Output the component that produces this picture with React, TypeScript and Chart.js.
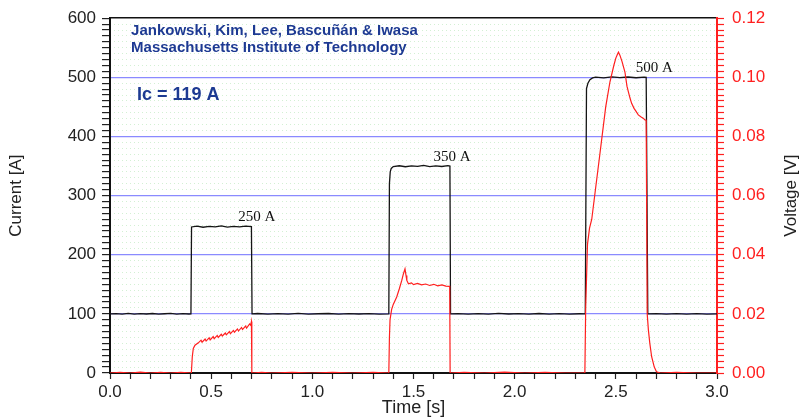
import React, { useEffect, useRef } from 'react';
import { Chart, registerables } from 'chart.js';

Chart.register(...registerables);

// ---- Data ----
const timeCurrent = [
  0, 0.03, 0.06, 0.09, 0.12, 0.15, 0.18, 0.21, 0.24, 0.27, 0.30, 0.33, 0.36, 0.39, 0.400,
  0.403, 0.43, 0.46, 0.49, 0.52, 0.55, 0.58, 0.61, 0.64, 0.67, 0.699,
  0.702, 0.73, 0.78, 0.83, 0.88, 0.93, 0.98, 1.03, 1.08, 1.13, 1.18, 1.23, 1.28, 1.33, 1.378,
  1.381, 1.385, 1.39, 1.40, 1.43, 1.46, 1.49, 1.52, 1.55, 1.58, 1.61, 1.64, 1.67, 1.680,
  1.683, 1.72, 1.77, 1.82, 1.87, 1.92, 1.97, 2.02, 2.07, 2.12, 2.17, 2.22, 2.27, 2.32, 2.349,
  2.355, 2.362, 2.372, 2.385, 2.40, 2.44, 2.48, 2.52, 2.56, 2.60, 2.64, 2.650,
  2.658, 2.70, 2.75, 2.80, 2.85, 2.90, 2.95, 3.0,
];
const current = [
  100, 100.5, 99.5, 100.8, 99.6, 100.3, 99.8, 100.6, 99.4, 100.2, 100.7, 99.5, 100.4, 99.8, 100,
  247, 248.5, 246.5, 248, 247, 248.8, 246.8, 248, 247.2, 248.5, 247.5,
  100, 100.6, 99.4, 100.3, 99.7, 100.8, 99.5, 100.2, 100.6, 99.4, 100.5, 99.8, 100.4, 99.6, 100,
  320, 340, 346, 349, 350.5, 348.8, 350.2, 349.3, 351, 349, 350.4, 349.2, 350.6, 350,
  100, 100.5, 99.6, 100.4, 99.5, 100.7, 99.8, 100.3, 99.5, 100.6, 99.7, 100.4, 99.6, 100.2, 100,
  481, 490, 496, 499, 500.5, 499.2, 500.8, 499.5, 500.6, 499.3, 500.4, 500,
  100, 100.5, 99.6, 100.3, 99.7, 100.5, 99.6, 100,
];

const timeVoltage = [
  0, 0.05, 0.1, 0.15, 0.2, 0.25, 0.3, 0.35, 0.402,
  0.4067, 0.4117, 0.420, 0.4366, 0.45, 0.455, 0.47, 0.475, 0.49, 0.495, 0.51, 0.515, 0.53, 0.535,
  0.55, 0.555, 0.57, 0.575, 0.59, 0.595, 0.61, 0.615, 0.63, 0.635, 0.65, 0.655, 0.67, 0.675,
  0.69, 0.695, 0.699,
  0.701, 0.75, 0.8, 0.9, 1.0, 1.1, 1.2, 1.3, 1.378,
  1.381, 1.384, 1.392, 1.40, 1.417, 1.43, 1.442, 1.450, 1.458, 1.463, 1.467, 1.475, 1.49, 1.50,
  1.52, 1.54, 1.56, 1.58, 1.60, 1.62, 1.64, 1.66, 1.679,
  1.681, 1.75, 1.85, 1.95, 2.05, 2.15, 2.25, 2.347,
  2.351, 2.360, 2.370, 2.381, 2.40, 2.42, 2.435, 2.45, 2.471, 2.49, 2.50, 2.508, 2.513, 2.52,
  2.53, 2.545, 2.555, 2.562, 2.57, 2.578, 2.59, 2.60, 2.611, 2.625, 2.635, 2.644, 2.650,
  2.655, 2.661, 2.668, 2.677, 2.69, 2.701, 2.72, 2.8, 2.9, 3.0,
];
const voltage = [
  0, 0.0002, 0, 0.0003, 0, 0.0002, 0, 0.0002, 0,
  0.0055, 0.0083, 0.0094, 0.0102, 0.0111, 0.0104, 0.0115, 0.0108, 0.0119, 0.0112, 0.0123, 0.0116, 0.0127, 0.0120,
  0.0131, 0.0125, 0.0135, 0.0129, 0.0140, 0.0133, 0.0144, 0.0138, 0.0149, 0.0142, 0.0154, 0.0147, 0.0159, 0.0152,
  0.0166, 0.0162, 0.0174,
  0, 0.0002, 0, 0.0002, 0, 0.0002, 0, 0.0002, 0,
  0.012, 0.018, 0.0215, 0.0232, 0.0257, 0.0285, 0.0313, 0.0335, 0.0352, 0.033, 0.0313, 0.0302, 0.0305, 0.0299,
  0.0303, 0.0298, 0.0301, 0.0296, 0.0300, 0.0295, 0.0298, 0.0294, 0.0293,
  0, 0.0002, 0, 0.0003, 0, 0.0002, 0, 0,
  0.022, 0.0436, 0.049, 0.052, 0.0625, 0.0734, 0.0817, 0.090, 0.0985, 0.104, 0.1065, 0.1078, 0.1085, 0.1075,
  0.1055, 0.1018, 0.097, 0.0951, 0.093, 0.0912, 0.0895, 0.0885, 0.0873, 0.0866, 0.0862, 0.0856, 0.0855,
  0.020, 0.0145, 0.010, 0.0055, 0.002, 0.0004, 0, 0.0002, 0, 0,
];

const currentTickLabels = [0, 100, 200, 300, 400, 500, 600];
const voltageTickLabels = ['0.00', '0.02', '0.04', '0.06', '0.08', '0.10', '0.12'];
const timeTickLabels = ['0.0', '0.5', '1.0', '1.5', '2.0', '2.5', '3.0'];

const pulseLabels = ['250 A', '350 A', '500 A'];
const pulseLabelTimes = [0.725, 1.69, 2.69];
const pulseLabelCurrents = [264, 366, 516];

const headerLines = ['Jankowski, Kim, Lee, Bascuñán & Iwasa', 'Massachusetts Institute of Technology'];
const headerTimes = [0.104, 0.104];
const headerCurrents = [571, 543];
const criticalLabel = 'Ic = 119 A';
const criticalTime = 0.133;
const criticalCurrent = 462;

const SANS = '"Liberation Sans", Arial, Helvetica, sans-serif';
const NAVY = '#1d3a92';
const RED = '#ff1f1f';

const annotationPlugin = {
  id: 'annotations',
  afterDatasetsDraw(chart: any) {
    const { ctx, scales } = chart;
    const x = scales.x;
    const y = scales.y;
    ctx.save();
    // pulse labels
    ctx.fillStyle = '#111';
    ctx.font = '15px "Liberation Serif", "Times New Roman", serif';
    ctx.textAlign = 'center';
    ctx.textBaseline = 'middle';
    pulseLabels.forEach((s, i) => {
      ctx.fillText(s, x.getPixelForValue(pulseLabelTimes[i]), y.getPixelForValue(pulseLabelCurrents[i]));
    });
    // header
    ctx.fillStyle = NAVY;
    ctx.textAlign = 'left';
    ctx.textBaseline = 'alphabetic';
    ctx.font = 'bold 15px ' + SANS;
    headerLines.forEach((s, i) => {
      ctx.fillText(s, x.getPixelForValue(headerTimes[i]), y.getPixelForValue(headerCurrents[i]));
    });
    ctx.font = 'bold 18px ' + SANS;
    ctx.fillText(criticalLabel, x.getPixelForValue(criticalTime), y.getPixelForValue(criticalCurrent));
    // right axis title (reads upward)
    const r = scales.y1;
    const ca = chart.chartArea;
    ctx.translate(r.right - 15, (ca.top + ca.bottom) / 2);
    ctx.rotate(-Math.PI / 2);
    ctx.fillStyle = '#222';
    ctx.font = '17px ' + SANS;
    ctx.textAlign = 'center';
    ctx.textBaseline = 'middle';
    ctx.fillText('Voltage [V]', 0, 0);
    ctx.restore();
  },
};

export default function App() {
  const canvasRef = useRef<HTMLCanvasElement | null>(null);

  useEffect(() => {
    const canvas = canvasRef.current;
    if (!canvas) return;
    Chart.defaults.font.family = SANS;

    const chart = new Chart(canvas, {
      type: 'line',
      data: {
        datasets: [
          {
            label: 'Voltage',
            data: timeVoltage.map((t, i) => ({ x: t, y: voltage[i] })),
            xAxisID: 'x',
            yAxisID: 'y1',
            borderColor: RED,
            borderWidth: 1.2,
            pointRadius: 0,
            tension: 0,
          },
          {
            label: 'Current',
            data: timeCurrent.map((t, i) => ({ x: t, y: current[i] })),
            xAxisID: 'x',
            yAxisID: 'y',
            borderColor: '#151515',
            borderWidth: 1.3,
            pointRadius: 0,
            tension: 0,
          },
        ],
      },
      options: {
        responsive: false,
        maintainAspectRatio: false,
        animation: false,
        layout: { padding: 0 },
        plugins: { legend: { display: false }, tooltip: { enabled: false } },
        scales: {
          x: {
            type: 'linear',
            position: 'bottom',
            min: 0,
            max: 3,
            afterFit: (s: any) => { s.height = 46; },
            ticks: {
              stepSize: 0.1,
              autoSkip: false,
              maxRotation: 0,
              color: '#222',
              font: { size: 17 },
              padding: 3,
              callback: (v: any) => {
                const s = Number(v).toFixed(1);
                return timeTickLabels.includes(s) && Math.abs(Number(v) * 2 - Math.round(Number(v) * 2)) < 1e-6 ? s : '';
              },
            },
            grid: { drawOnChartArea: false, tickColor: '#222', tickLength: 6, tickWidth: 1.2 },
            border: { color: '#111', width: 2 },
            title: { display: true, text: 'Time [s]', color: '#222', font: { size: 18 }, padding: { top: 0, bottom: 0 } },
          },
          xTop: {
            type: 'linear',
            position: 'top',
            min: 0,
            max: 3,
            afterFit: (s: any) => { s.height = 16; },
            ticks: { display: false },
            grid: { drawOnChartArea: false, drawTicks: false },
            border: { color: '#111', width: 1.5 },
          },
          yMinor: {
            type: 'linear',
            position: 'left',
            min: 0,
            max: 600,
            afterFit: (s: any) => { s.width = 0; },
            ticks: { display: false, stepSize: 10, autoSkip: false },
            grid: {
              drawTicks: false,
              color: (c: any) => (c.tick && c.tick.value % 100 === 0 ? 'rgba(0,0,0,0)' : '#d3f0d3'),
              lineWidth: 1,
            },
            border: { display: false, dash: [1, 3] },
          },
          y: {
            type: 'linear',
            position: 'left',
            min: 0,
            max: 600,
            afterFit: (s: any) => { s.width = 110; },
            ticks: {
              stepSize: 10,
              autoSkip: false,
              color: '#222',
              font: { size: 17 },
              padding: 6,
              callback: (v: any) => (currentTickLabels.includes(Number(v)) ? String(v) : ''),
            },
            grid: {
              color: (c: any) => {
                const v = c.tick ? c.tick.value : -1;
                return v % 100 === 0 && v !== 0 && v !== 600 ? '#8a8aff' : 'rgba(0,0,0,0)';
              },
              lineWidth: 1.2,
              tickColor: '#222',
              tickLength: 8,
              tickWidth: 1.2,
            },
            border: { color: '#111', width: 2 },
            title: { display: true, text: 'Current [A]', color: '#222', font: { size: 17 }, padding: { top: 6, bottom: 0 } },
          },
          y1: {
            type: 'linear',
            position: 'right',
            min: 0,
            max: 0.12,
            afterFit: (s: any) => { s.width = 89; },
            ticks: {
              stepSize: 0.002,
              autoSkip: false,
              color: RED,
              font: { size: 17 },
              padding: 8,
              callback: (v: any) => {
                const s = Number(v).toFixed(2);
                const k = Math.round(Number(v) * 1000);
                return k % 20 === 0 && voltageTickLabels.includes(s) ? s : '';
              },
            },
            grid: { drawOnChartArea: false, tickColor: RED, tickLength: 7, tickWidth: 1.2 },
            border: { color: RED, width: 2 },
          },
        },
      },
      plugins: [annotationPlugin],
    } as any);

    return () => chart.destroy();
  }, []);

  return (
    <div style={{ position: 'absolute', left: 0, top: 0, width: 806, height: 419, background: '#fff' }}>
      <canvas ref={canvasRef} width={806} height={419} style={{ display: 'block' }} />
    </div>
  );
}
